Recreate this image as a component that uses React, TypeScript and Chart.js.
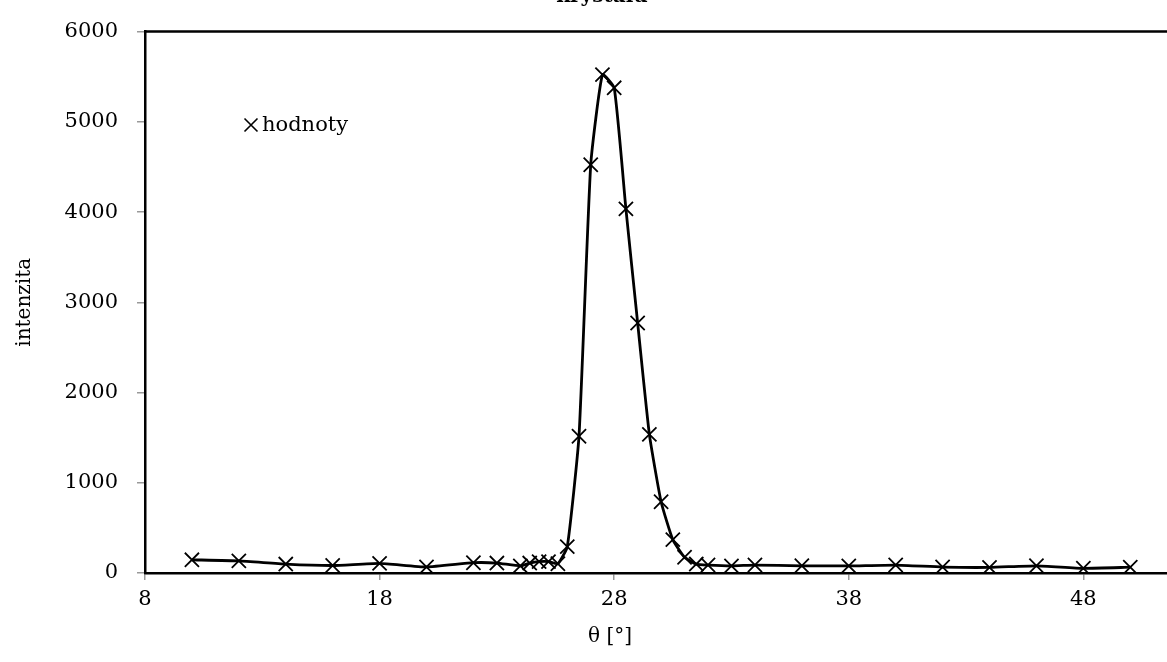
import React, { useEffect, useRef } from "react";
import { Chart, registerables } from "chart.js";

Chart.register(...registerables);

const thetaValues = [
  10, 12, 14, 16, 18, 20, 22, 23, 24, 24.4, 24.8, 25.2, 25.6, 26, 26.5, 27, 27.5, 28, 28.5,
  29, 29.5, 30, 30.5, 31, 31.5, 32, 33, 34, 36, 38, 40, 42, 44, 46, 48, 50,
];
const intensityValues = [
  146, 134, 99, 83, 107, 67, 114, 110, 79, 110, 126, 126, 103, 292, 1516, 4524, 5523, 5377, 4035,
  2771, 1536, 790, 370, 175, 99, 88, 79, 88, 80, 79, 88, 66, 62, 80, 52, 64,
];
const xTickValues = [8, 18, 28, 38, 48];
const yTickStep = 1000;
const seriesLabel = "hodnoty";
const chartTitle = "krystalu";
const xAxisTitle = "θ [°]";
const yAxisTitle = "intenzita";

const FONT = "'DejaVu Serif', 'Liberation Serif', serif";

export default function App() {
  const ref = useRef<HTMLCanvasElement>(null);

  useEffect(() => {
    const canvas = ref.current;
    if (!canvas) return;

    const framePlugin = {
      id: "frame",
      beforeDatasetsDraw(chart: any) {
        const { ctx, chartArea } = chart;
        ctx.save();
        ctx.strokeStyle = "#000";
        ctx.lineWidth = 2.5;
        ctx.beginPath();
        ctx.moveTo(chartArea.left - 1, chartArea.top);
        ctx.lineTo(chartArea.right, chartArea.top);
        ctx.lineTo(chartArea.right, chartArea.bottom);
        ctx.stroke();
        ctx.restore();
      },
    };

    const annotPlugin = {
      id: "annot",
      afterDraw(chart: any) {
        const { ctx } = chart;
        ctx.save();
        // title (clipped at the top edge)
        ctx.fillStyle = "#000";
        ctx.font = `bold 20px ${FONT}`;
        ctx.textAlign = "center";
        ctx.textBaseline = "alphabetic";
        ctx.fillText(chartTitle, 602, 2);
        // x axis title
        ctx.font = `20px ${FONT}`;
        ctx.textBaseline = "middle";
        ctx.fillText(xAxisTitle, 610, 637);
        // legend
        const mx = 251;
        const my = 125;
        const r = 6.5;
        ctx.strokeStyle = "#000";
        ctx.lineWidth = 1.6;
        ctx.beginPath();
        ctx.moveTo(mx - r, my - r);
        ctx.lineTo(mx + r, my + r);
        ctx.moveTo(mx + r, my - r);
        ctx.lineTo(mx - r, my + r);
        ctx.stroke();
        ctx.font = `21px ${FONT}`;
        ctx.textAlign = "left";
        ctx.textBaseline = "middle";
        ctx.fillText(chart.data.datasets[0].label, 262, 126);
        ctx.restore();
      },
    };

    const tickFont = { family: FONT, size: 21 };

    const chart = new Chart(canvas, {
      type: "line",
      data: {
        datasets: [
          {
            label: seriesLabel,
            data: thetaValues.map((x, i) => ({ x, y: intensityValues[i] })),
            borderColor: "#000",
            borderWidth: 2.8,
            pointStyle: "crossRot",
            pointRadius: 10,
            pointBorderWidth: 1.8,
            pointBorderColor: "#000",
            pointBackgroundColor: "#000",
            tension: 0.15,
            fill: false,
          },
        ],
      },
      options: {
        responsive: false,
        animation: false,
        layout: { padding: { top: 26, left: 0, right: 10, bottom: 0 } },
        plugins: {
          legend: { display: false },
          title: { display: false },
          tooltip: { enabled: false },
        },
        scales: {
          x: {
            type: "linear",
            min: 8,
            max: 52,
            afterBuildTicks: (s: any) => {
              s.ticks = xTickValues.map((v) => ({ value: v }));
            },
            afterFit: (s: any) => {
              s.height = 89;
            },
            grid: {
              drawOnChartArea: false,
              drawTicks: true,
              tickLength: 7,
              color: "#999",
              lineWidth: 1.5,
            },
            border: { display: true, color: "#000", width: 2.5 },
            ticks: {
              font: tickFont,
              color: "#000",
              padding: 7,
              maxRotation: 0,
              autoSkip: false,
              callback: (v: any) => String(v),
            },
            title: { display: false },
          },
          y: {
            type: "linear",
            min: 0,
            max: 6000,
            afterFit: (s: any) => {
              s.width = 145;
            },
            grid: {
              drawOnChartArea: false,
              drawTicks: true,
              tickLength: 8,
              color: "#999",
              lineWidth: 1.5,
            },
            border: { display: true, color: "#000", width: 2.5 },
            ticks: {
              stepSize: yTickStep,
              font: tickFont,
              color: "#000",
              padding: 19,
              callback: (v: any) => String(v),
            },
            title: {
              display: true,
              text: yAxisTitle,
              font: { family: FONT, size: 20 },
              color: "#000",
              padding: { top: 13, bottom: 0 },
            },
          },
        },
      },
      plugins: [framePlugin, annotPlugin],
    } as any);

    return () => chart.destroy();
  }, []);

  return (
    <div
      style={{
        position: "fixed",
        left: 0,
        top: 0,
        width: 1167,
        height: 662,
        overflow: "hidden",
        background: "#fff",
      }}
    >
      <canvas ref={ref} width={1189} height={662} style={{ display: "block" }} />
    </div>
  );
}
